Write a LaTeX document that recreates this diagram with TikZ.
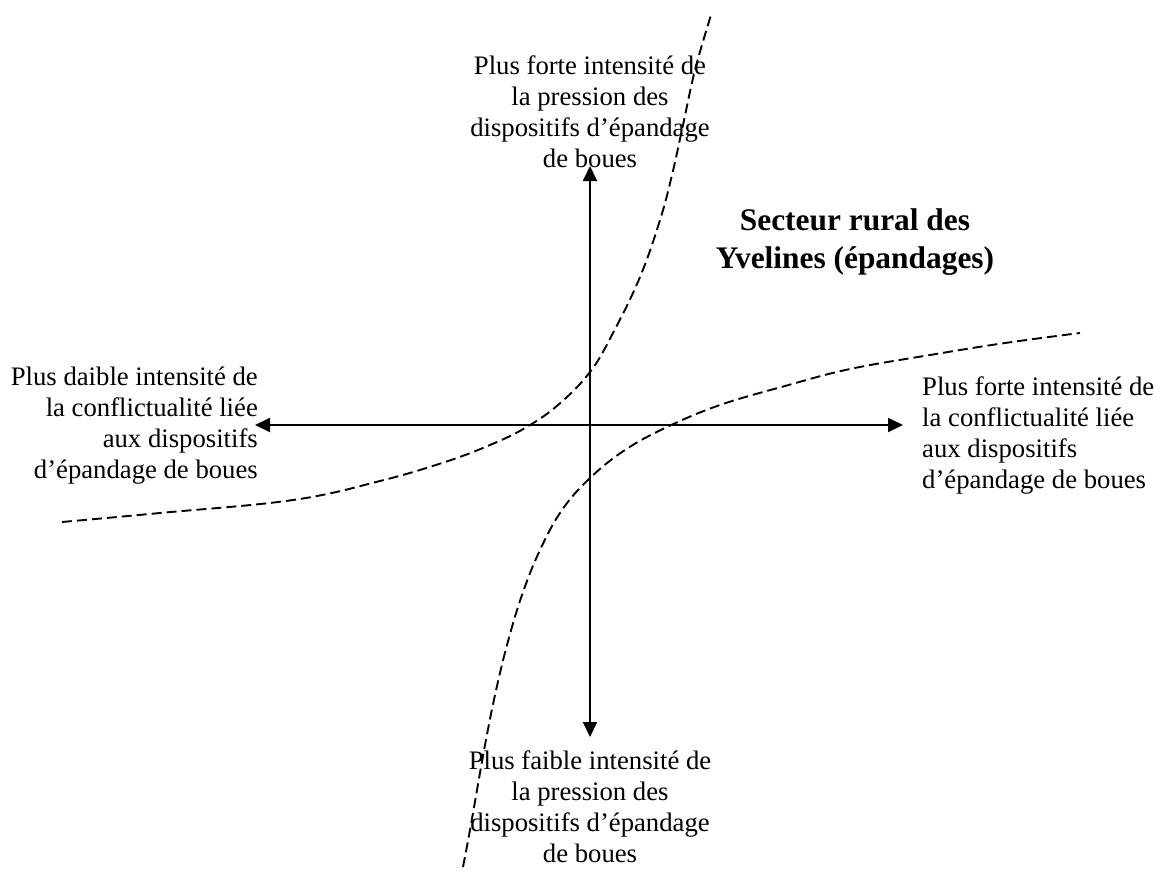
\documentclass[tikz,border=0pt]{standalone}
\usepackage{fontspec}
\setmainfont{Liberation Serif}
\usetikzlibrary{arrows.meta}
\tikzset{
  axis/.style={line width=1.9pt, {Triangle[length=15pt,width=14pt]}-{Triangle[length=15pt,width=14pt]}},
  frontier/.style={line width=1.9pt, dash pattern=on 10pt off 5pt},
  lbl/.style={inner sep=0pt, font=\fontsize{26.7}{30.7}\selectfont},
  ttl/.style={inner sep=0pt, align=center, font=\fontsize{31.4}{38}\selectfont\bfseries}
}
\begin{document}
\begin{tikzpicture}[x=1pt,y=-1pt]
\fill[white] (0,0) rectangle (1156,871);
\useasboundingbox (0,0) rectangle (1156,871);

\coordinate (top) at (590,166);
\coordinate (bottom) at (590,737);
\coordinate (left) at (255,425);
\coordinate (right) at (903,425);

\draw[axis] (bottom) -- (top);
\draw[axis] (left) -- (right);

\draw[frontier] plot[smooth, tension=0.65] coordinates {
 (62,522) (160,513) (293,500) (380,481) (445,462) (490,445) (525,428)
 (558,405) (590,372) (613,333) (640,277) (660,220) (672,175) (683,125)
 (695,70) (711,15)};

\draw[frontier] plot[smooth, tension=0.65] coordinates {
 (463,867) (470,830) (477,790) (485,745) (495,695) (507,645) (522,595)
 (540,550) (562,510) (590,478) (625,450) (667,427) (720,405) (785,386)
 (850,369) (930,355) (1005,343) (1080,333)};

\node[lbl, align=center, anchor=base] (ttop) at (590,167)
 {Plus forte intensité de\\la pression des\\dispositifs d’épandage\\de boues};
\node[lbl, align=center, anchor=base] (tbottom) at (590,862)
 {Plus faible intensité de\\la pression des\\dispositifs d’épandage\\de boues};
\node[lbl, align=right, anchor=base east] (tleft) at (258,478)
 {Plus daible intensité de\\la conflictualité liée\\aux dispositifs\\d’épandage de boues};
\node[lbl, align=left, anchor=base west] (tright) at (922,488)
 {Plus forte intensité de\\la conflictualité liée\\aux dispositifs\\d’épandage de boues};
\node[ttl, anchor=base] (title) at (855,268)
 {Secteur rural des\\Yvelines (épandages)};
\end{tikzpicture}
\end{document}
